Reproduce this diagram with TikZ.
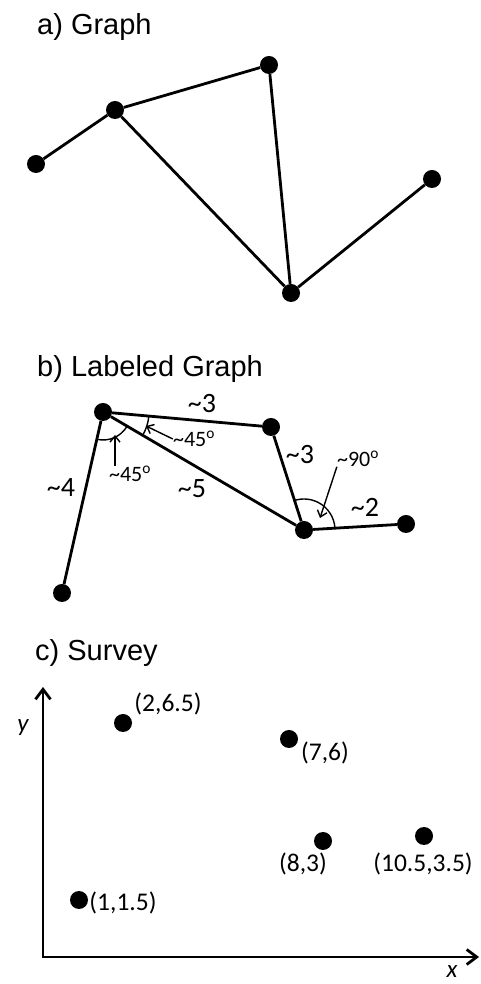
\documentclass[tikz,border=0pt]{standalone}
\usepackage{fontspec}
\setmainfont{Carlito}
\newfontfamily\arialfont{Liberation Sans}
\usetikzlibrary{arrows.meta,angles,positioning}
\newcommand{\tld}{\textasciitilde}
\newcommand{\dg}{\textsuperscript{o}}
\tikzset{
  vertex/.style={circle, fill=black, inner sep=0pt, minimum size=18pt},
  link/.style={line width=2.8pt},
  sectitle/.style={anchor=base west, inner sep=0pt, font=\arialfont\fontsize{29}{34}\selectfont},
  wlabel/.style={inner sep=0pt, font=\fontsize{28}{32}\selectfont},
  anglabel/.style={inner sep=0pt, font=\fontsize{22}{26}\selectfont},
  ptlabel/.style={inner sep=0pt, font=\fontsize{25.5}{30}\selectfont},
  axlabel/.style={inner sep=0pt, font=\itshape\fontsize{25}{30}\selectfont},
  angmark/.style={draw, line width=1.4pt, angle radius=#1},
  ptarrow/.style={-{Straight Barb[length=6pt,width=10pt]}, line width=1.4pt},
  axis/.style={{Straight Barb[length=10pt,width=15pt]}-{Straight Barb[length=10pt,width=15pt]},
    line width=2.8pt, line join=miter}
}

\begin{document}
\begin{tikzpicture}[x=1pt, y=1pt]
\useasboundingbox (0,0) rectangle (480,984);

% a) Graph
\node[sectitle] (ta) at (37,949) {a) Graph};
\node[vertex] (a1) at (36,820) {};
\node[vertex] (a2) at (115,874) {};
\node[vertex] (a3) at (269,919) {};
\node[vertex] (a4) at (432,805) {};
\node[vertex] (a5) at (291,691) {};
\draw[link] (a1) -- (a2);
\draw[link] (a2) -- (a3);
\draw[link] (a2) -- (a5);
\draw[link] (a3) -- (a5);
\draw[link] (a5) -- (a4);

% b) Labeled Graph
\node[sectitle] (tb) at (37,607) {b) Labeled Graph};
\node[vertex] (b1) at (103,572) {};
\node[vertex] (b2) at (271,557) {};
\node[vertex] (b3) at (304,454) {};
\node[vertex] (b4) at (406,460) {};
\node[vertex] (b5) at (62,391) {};
\draw[link] (b1) -- (b2);
\draw[link] (b1) -- (b3);
\draw[link] (b2) -- (b3);
\draw[link] (b3) -- (b4);
\draw[link] (b1) -- (b5);
\pic[angmark=28pt] {angle = b5--b1--b3};
\pic[angmark=46pt] {angle = b3--b1--b2};
\pic[angmark=31pt] {angle = b4--b3--b2};
\node[wlabel] (w12) at (202,580) {\tld3};
\node[wlabel] (w23) at (300,529) {\tld3};
\node[wlabel] (w15) at (61,496) {\tld4};
\node[wlabel] (w13) at (192,495) {\tld5};
\node[wlabel] (w34) at (365,477) {\tld2};
\node[anglabel] (l45a) at (194,545) {\tld45\dg};
\node[anglabel] (l45b) at (130,510) {\tld45\dg};
\node[anglabel] (l90) at (358,525) {\tld90\dg};
\coordinate (t45a) at (146,558);
\coordinate (t45b) at (115,549);
\coordinate (t90) at (320,466);
\draw[ptarrow] (l45a.west) -- (t45a);
\draw[ptarrow] (l45b.north -| t45b) -- (t45b);
\draw[ptarrow] (l90.south west) -- (t90);

% c) Survey
\node[sectitle] (tc) at (35,323) {c) Survey};
\coordinate (origin) at (43,27);
\coordinate (ytop) at (43,297);
\coordinate (xend) at (479,27);
\draw[axis] (ytop) -- (origin) -- (xend);
\node[axlabel] (ylab) at (23,256) {y};
\node[axlabel, anchor=base] (xlab) at (452,6) {x};
\node[vertex] (s1) at (123,261) {};
\node[vertex] (s2) at (289,245) {};
\node[vertex] (s3) at (323,143) {};
\node[vertex] (s4) at (424,148) {};
\node[vertex] (s5) at (79,84) {};
\node[ptlabel] (p1) at (168,280) {(2,6.5)};
\node[ptlabel] (p2) at (325,231) {(7,6)};
\node[ptlabel] (p3) at (303,120) {(8,3)};
\node[ptlabel] (p4) at (423,120) {(10.5,3.5)};
\node[ptlabel] (p5) at (123,81) {(1,1.5)};
\end{tikzpicture}
\end{document}
